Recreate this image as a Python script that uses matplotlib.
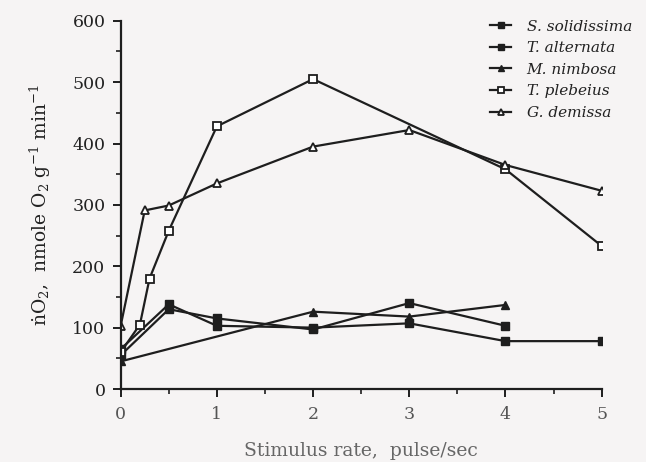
import matplotlib
matplotlib.use("Agg")
import matplotlib.pyplot as plt
from matplotlib.ticker import MultipleLocator

plt.rcParams['font.family'] = ['DejaVu Serif']
plt.rcParams['mathtext.fontset'] = 'dejavuserif'

# Data
x_sol = [0, 0.5, 1, 2, 3, 4, 5]
y_sol = [65, 138, 103, 100, 107, 78, 78]

x_alt = [0, 0.5, 1, 2, 3, 4]
y_alt = [55, 130, 115, 97, 140, 103]

x_nim = [0, 2, 3, 4]
y_nim = [45, 126, 118, 137]

x_ple = [0, 0.2, 0.3, 0.5, 1, 2, 4, 5]
y_ple = [60, 105, 180, 258, 428, 505, 358, 233]

x_dem = [0, 0.25, 0.5, 1, 2, 3, 4, 5]
y_dem = [103, 291, 299, 335, 395, 422, 365, 323]

labels = ["S. solidissima", "T. alternata", "M. nimbosa", "T. plebeius", "G. demissa"]

bg = '#f6f4f4'
fig = plt.figure(figsize=(6.46, 4.62), dpi=100, facecolor=bg)
ax = fig.add_axes([0.1868, 0.158, 0.7446, 0.797], facecolor=bg)

lc = '#1e1e1e'
lw = 1.6
ms = 5.5
ax.plot(x_sol, y_sol, color=lc, lw=lw, marker='s', ms=ms, mfc=lc, mec=lc, label=labels[0])
ax.plot(x_alt, y_alt, color=lc, lw=lw, marker='s', ms=ms, mfc=lc, mec=lc, label=labels[1])
ax.plot(x_nim, y_nim, color=lc, lw=lw, marker='^', ms=ms, mfc=lc, mec=lc, label=labels[2])
ax.plot(x_ple, y_ple, color=lc, lw=lw, marker='s', ms=ms, mfc='white', mec=lc, mew=1.3, label=labels[3])
ax.plot(x_dem, y_dem, color=lc, lw=lw, marker='^', ms=ms, mfc='white', mec=lc, mew=1.3, label=labels[4])

ax.set_xlim(0, 5)
ax.set_ylim(0, 600)
for s in ['top', 'right']:
    ax.spines[s].set_visible(False)
for s in ['left', 'bottom']:
    ax.spines[s].set_linewidth(1.6)
    ax.spines[s].set_color(lc)

ax.xaxis.set_major_locator(MultipleLocator(1))
ax.xaxis.set_minor_locator(MultipleLocator(0.5))
ax.yaxis.set_major_locator(MultipleLocator(100))
ax.yaxis.set_minor_locator(MultipleLocator(50))
ax.tick_params(axis='both', which='major', direction='out', length=6, width=1.4,
               labelsize=12.5, colors=lc, pad=5)
ax.tick_params(axis='both', which='minor', direction='out', length=3.5, width=1.2, colors=lc)
ax.tick_params(axis='x', labelcolor='#555555', pad=6)
ax.tick_params(axis='y', labelcolor='#222222')

ax.set_xlabel("Stimulus rate,  pulse/sec", fontsize=13.5, color='#666666', labelpad=14)
ax.set_ylabel("\u1e45O$_2$,  nmole O$_2$ g$^{-1}$ min$^{-1}$", fontsize=13.5, color='#222222', labelpad=14)

leg = ax.legend(loc='upper left', bbox_to_anchor=(0.755, 1.02), frameon=False,
                prop={'style': 'italic', 'size': 11}, handlelength=1.4,
                labelspacing=0.5, handletextpad=1.0, borderaxespad=0)
for t in leg.get_texts():
    t.set_color('#222222')
for h in leg.legend_handles:
    h.set_markersize(4.5)

fig.savefig("out.png", dpi=100, facecolor=bg)
